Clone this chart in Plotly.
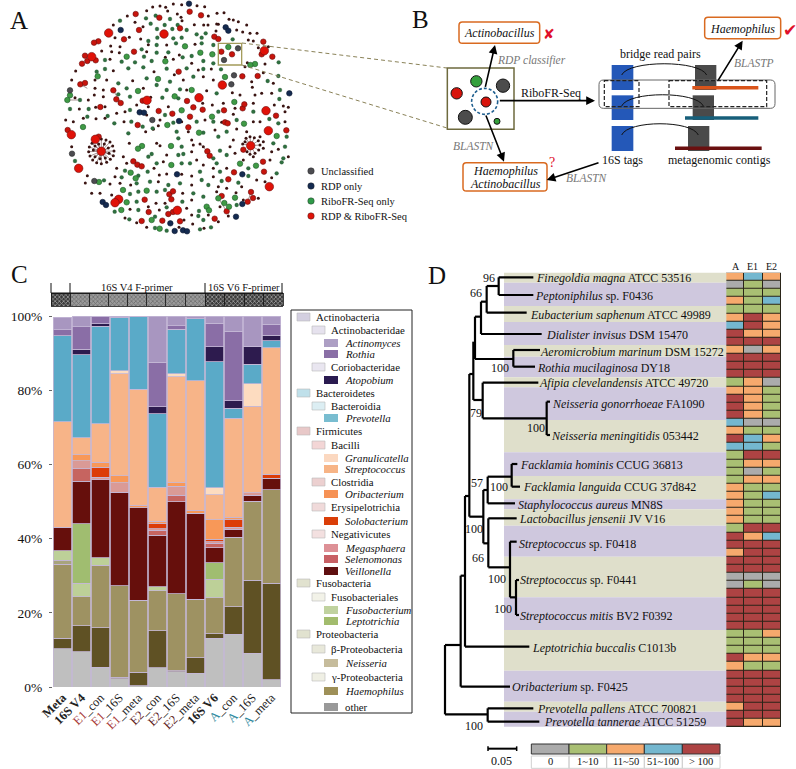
import plotly.graph_objects as go

W, H = 796, 769
SERIF = "Liberation Serif"

# ---------- Panel C data ----------
samples = ["Meta", "16S V4", "E1_con", "E1_16S", "E1_meta", "E2_con", "E2_16S", "E2_meta", "16S V6", "A_con", "A_16S", "A_meta"]
sample_ticks = ["<b>Meta</b>", "<b>16S V4</b>",
                "<span style='color:#a83a3a'>E1</span>_con", "<span style='color:#a83a3a'>E1</span>_16S", "<span style='color:#a83a3a'>E1</span>_meta",
                "<span style='color:#5e1a1a'>E2</span>_con", "<span style='color:#5e1a1a'>E2</span>_16S", "<span style='color:#5e1a1a'>E2</span>_meta",
                "<b>16S V6</b>",
                "<span style='color:#2f8aa0'>A</span>_con", "<span style='color:#2f8aa0'>A</span>_16S", "<span style='color:#2f8aa0'>A</span>_meta"]
other =        [10.3, 9.5, 5.3, 2.2, 0.3, 5.2, 4.1, 3.7, 13.1, 14.2, 9.1, 1.9]
dark_olive =   [2.9, 7.0, 10.7, 0.4, 3.7, 9.9, 0.3, 4.2, 1.2, 7.4, 19.7, 26.0]
haemophilus =  [19.9, 7.8, 16.8, 24.7, 19.4, 10.9, 20.8, 15.8, 9.8, 18.8, 21.3, 25.3]
neisseria =    [1.1, 0, 0, 0, 0, 0, 0, 0, 0, 0, 0, 0]
fusobacterium = [2.5, 3.6, 2.1, 0, 0, 1.0, 0, 0, 4.9, 0, 0, 0]
leptotrichia = [0, 16.1, 0, 0, 0, 0, 0, 0, 4.5, 0, 0, 0]
veillonella =  [6.4, 11.4, 21.0, 25.2, 24.9, 13.9, 24.8, 23.2, 4.1, 2.1, 1.6, 3.1]
selenomonas =  [0, 3.4, 0, 0, 0, 1.3, 1.7, 0, 1.1, 0, 0, 0]
megasphaera =  [0, 2.2, 0.7, 2.5, 0, 0.5, 2.4, 0, 0.4, 0.6, 0.7, 0]
solobacterium = [0, 0, 2.7, 0, 0, 1.3, 0, 0, 0.7, 2.0, 0, 1.0]
oribacterium = [0, 1.6, 1.3, 2.0, 0.7, 0.7, 0.9, 0.7, 5.3, 0.7, 0, 0]
streptococcus = [28.4, 4.6, 10.4, 27.5, 31.2, 9.2, 28.6, 34.9, 6.7, 26.6, 23.3, 34.2]
granulicatella = [0, 0, 0, 0.8, 0, 0, 0.9, 0, 1.9, 0, 6.1, 0]
prevotella =   [23.2, 22.3, 26.3, 14.2, 19.8, 19.7, 11.9, 16.8, 34.0, 2.8, 5.2, 1.8]
atopobium =    [0, 1.6, 0.6, 0, 0, 1.9, 0, 0, 4.0, 2.0, 4.8, 1.5]
rothia =       [1.6, 6.0, 2.1, 0, 0, 12.1, 1.0, 0, 6.3, 18.7, 0, 3.0]
actinomyces =  [3.3, 2.9, 0, 0.5, 0, 12.4, 2.6, 0.7, 2.0, 4.1, 8.2, 2.2]

stack_names = ["other", "unassigned", "Haemophilus", "Neisseria", "Fusobacterium", "Leptotrichia", "Veillonella", "Selenomonas", "Megasphaera",
               "Solobacterium", "Oribacterium", "Streptococcus", "Granulicatella", "Prevotella", "Atopobium", "Rothia", "Actinomyces"]
stack_values = [other, dark_olive, haemophilus, neisseria, fusobacterium, leptotrichia, veillonella, selenomonas, megasphaera,
                solobacterium, oribacterium, streptococcus, granulicatella, prevotella, atopobium, rothia, actinomyces]
stack_colors = ["#bfbfbf", "#5f5124", "#9e9262", "#a8a47c", "#bdd098", "#a0bd70", "#660f0c", "#c66460", "#da9a96",
                "#dc3c08", "#f89858", "#f7b488", "#fddcc0", "#5aaac8", "#2d1b4e", "#8a6ea6", "#a896c0"]

# legend rows: label, level, swatch colour
legend_labels = ["Actinobacteria", "Actinobacteridae", "Actinomyces", "Rothia", "Coriobacteridae", "Atopobium", "Bacteroidetes", "Bacteroidia", "Prevotella",
                 "Firmicutes", "Bacilli", "Granulicatella", "Streptococcus", "Clostridia", "Oribacterium", "Erysipelotrichia", "Solobacterium", "Negativicutes",
                 "Megasphaera", "Selenomonas", "Veillonella", "Fusobacteria", "Fusobacteriales", "Fusobacterium", "Leptotrichia", "Proteobacteria",
                 "β-Proteobacteria", "Neisseria", "γ-Proteobacteria", "Haemophilus", "other"]
legend_levels = [0, 1, 2, 2, 1, 2, 0, 1, 2, 0, 1, 2, 2, 1, 2, 1, 2, 1, 2, 2, 2, 0, 1, 2, 2, 0, 1, 2, 1, 2, 3]
legend_colors = ["#d3cfe0", "#e6e2ee", "#ad9fc4", "#8a6fa6", "#e9e6f0", "#2a1b50", "#bfe0ea", "#dceef3", "#79bdd0",
                 "#e8c8c8", "#f3d6d6", "#fbd8c0", "#f7b486", "#ecd0d0", "#f69255", "#f0dada", "#da3e08", "#f3e0e0",
                 "#dd9096", "#c86065", "#5f0f10", "#e1e2cf", "#f2f2e8", "#c0d29f", "#a2bc6d", "#e1e2cf",
                 "#e8e8da", "#c6bc9c", "#efefe4", "#9e9058", "#999999"]
legend_ypos = [317, 330, 343, 354, 367, 380, 393, 406, 418, 431, 445, 458, 469, 482, 494, 507, 521, 534, 548, 559, 571, 583, 597, 610, 621, 634, 649, 663, 677, 691, 707]

# ---------- Panel D data ----------
heat_A = ["O","K","G","O","G","O","B","R","R","O","R","R","R","G","O","R","R","R","B","O","R","B","G","G","G","G","O","O","O","O","O","G","R","R","O","R","R","K","K","R","R","R","R","R","G","G","G","R","O","R","R","R","R","O","R","R"]
heat_E1 = ["B","G","G","G","G","R","R","O","R","K","R","R","R","O","O","O","O","O","K","G","B","B","R","O","K","O","G","G","G","G","G","R","O","R","R","R","R","K","G","R","R","R","R","R","G","G","G","O","G","R","R","R","R","R","R","O"]
heat_E2 = ["O","K","G","B","G","O","O","O","R","O","R","R","R","K","G","G","G","G","K","G","O","G","R","O","G","O","G","B","G","G","G","R","B","R","R","R","R","K","K","R","R","R","R","R","O","G","G","O","G","R","R","R","R","R","R","O"]
heat_code = {"K": 0, "G": 1, "O": 2, "B": 3, "R": 4}
heat_colors = ["#ababab", "#a9bf73", "#f6a96d", "#74b7cf", "#ad4343"]
heat_columns = ["A", "E1", "E2"]
heat_labels = ["0", "1~10", "11~50", "51~100", "> 100"]

species = ["<i>Finegoldia magna</i> ATCC 53516", "<i>Peptoniphilus</i> sp. F0436", "<i>Eubacterium saphenum</i> ATCC 49989", "<i>Dialister invisus</i> DSM 15470",
           "<i>Aeromicrobium marinum</i> DSM 15272", "<i>Rothia mucilaginosa</i> DY18", "<i>Afipia clevelandensis</i> ATCC 49720",
           "<i>Neisseria gonorrhoeae</i> FA1090", "<i>Neisseria meningitidis</i> 053442", "<i>Facklamia hominis</i> CCUG 36813",
           "<i>Facklamia languida</i> CCUG 37d842", "<i>Staphylococcus aureus</i> MN8S", "<i>Lactobacillus jensenii</i> JV V16",
           "<i>Streptococcus</i> sp. F0418", "<i>Streptococcus</i> sp. F0441", "<i>Streptococcus mitis</i> BV2 F0392", "<i>Leptotrichia buccalis</i> C1013b",
           "<i>Oribacterium</i> sp. F0425", "<i>Prevotella pallens</i> ATCC 700821", "<i>Prevotella tannerae</i> ATCC 51259"]
species_x = [348, 345, 330, 378, 360, 352, 358, 395, 392, 300, 310, 295, 298, 298, 301, 300, 336, 275, 352, 372]
species_y = [55, 107, 165, 226, 275, 324, 368, 431, 527, 615, 682, 735, 778, 852, 961, 1068, 1165, 1281, 1348, 1386]
boot_text = ["96", "66", "100", "79", "100", "57", "100", "100", "66", "100", "100", "100"]
boot_x = [207, 168, 240, 168, 347, 172, 236, 163, 175, 230, 248, 163]
boot_y = [53, 99, 325, 458, 505, 668, 680, 808, 895, 957, 1048, 1397]
band_edges = [38, 68, 138, 186, 255, 290, 352, 382, 480, 577, 648, 718, 748, 797, 890, 1012, 1110, 1232, 1325, 1355, 1400]
# tree branches: x0, y0, x1, y1
branches = [
    (236, 52, 340, 52), (236, 105, 340, 105), (236, 52, 236, 105), (200, 78, 236, 78), (200, 158, 320, 158), (200, 78, 200, 158),
    (183, 125, 200, 125), (183, 222, 365, 222), (183, 125, 183, 222), (165, 170, 183, 170), (280, 270, 360, 270), (280, 320, 345, 320),
    (280, 270, 280, 320), (165, 297, 280, 297), (165, 170, 165, 297), (160, 245, 160, 420), (148, 342, 160, 342), (160, 420, 188, 420),
    (188, 368, 355, 368), (188, 368, 188, 475), (188, 475, 380, 475), (380, 425, 380, 525), (380, 425, 390, 425), (380, 525, 390, 525),
    (148, 342, 148, 770), (135, 708, 148, 708), (148, 770, 190, 770), (190, 690, 190, 850), (190, 690, 203, 690), (203, 650, 203, 730),
    (203, 730, 285, 730), (203, 650, 275, 650), (275, 612, 275, 680), (275, 612, 292, 612), (275, 680, 300, 680), (190, 850, 205, 850),
    (205, 775, 205, 922), (205, 775, 290, 775), (205, 922, 270, 922), (270, 845, 270, 1012), (270, 845, 290, 845), (270, 1012, 288, 1012),
    (288, 960, 288, 1065), (288, 960, 297, 960), (288, 1065, 297, 1065), (135, 708, 135, 1160), (135, 1160, 328, 1160), (122, 947, 135, 947),
    (122, 947, 122, 1280), (122, 1280, 270, 1280), (75, 1155, 122, 1155), (75, 1155, 75, 1363), (75, 1363, 203, 1363), (203, 1345, 203, 1385),
    (203, 1345, 340, 1345), (203, 1385, 358, 1385),
]

# ---------- Panel A data (node positions) ----------
red_big = [(326,99),(275,170),(304,454),(752,437),(286,418),(236,505),(597,293),(667,255),(798,332),(805,392),(808,560),(214,404),(356,598),(345,608),(532,631),(793,152),(441,301),(492,102)]
red_mid = [(407,42),(478,53),(569,35),(603,46),(417,90),(643,110),(655,117),(295,124),(282,128),(255,167),(262,183),(287,181),(246,191),(241,253),(255,249),(402,155),(785,163),(817,170),(428,302),(362,309),(672,331),(728,325),(733,313),(828,347),(476,333),(517,341),(570,350),(608,329),(580,322),(561,303),(536,215),(203,390),(296,410),(730,449),(413,375),(400,484),(412,494),(425,499),(622,454),(629,467),(702,517),(792,515),(685,538),(753,576),(743,605),(759,594),(508,583),(519,574),(514,598),(434,599),(519,636),(505,642),(425,663),(644,656),(665,588),(680,634),(540,664),(487,662),(446,636),(340,271),(349,298),(301,321),(727,229),(773,228),(675,367),(683,370),(565,382),(859,391),(789,485),(696,163),(664,155),(790,125),(540,85),(372,118)]
green_mid = [(414,273),(555,139),(545,331),(703,306),(732,371),(675,231),(830,408),(364,630),(369,570),(455,660),(479,686),(620,620),(627,631),(655,595),(673,609),(687,620),(297,546),(426,438),(414,446),(210,286),(202,300),(293,229),(502,375),(597,398),(636,350),(513,438),(514,495),(720,491),(768,497),(392,518),(407,535),(440,572),(380,607),(705,593),(765,192),(751,195),(496,184),(380,170),(474,237),(601,158),(637,163),(685,141),(575,270),(524,289),(249,381)]
navy = [(567,11),(677,82),(685,92),(362,90),(419,337),(432,338),(537,363),(308,606),(318,615),(511,670),(524,693),(549,691),(561,694),(708,650),(727,612),(531,523),(727,523),(868,280)]
slate = [(210,271),(216,461),(283,543),(694,253),(714,145),(672,180),(457,360),(702,226)]
green_small = [(360,62),(438,55),(510,57),(467,47),(494,75),(452,71),(471,87),(517,87),(533,75),(560,90),(590,103),(617,100),(445,123),(472,113),(520,115),(545,113),(605,113),(698,118),(470,135),(528,130),(605,130),(640,135),(425,148),(470,158),(505,157),(575,168),(315,180),(365,185),(405,187),(432,170),(455,183),(548,172),(610,183),(640,190),(836,187),(560,205),(610,207),(290,215),(315,207),(385,205),(430,202),(500,206),(663,208),(835,228),(355,250),(440,235),(510,245),(580,230),(803,243),(380,265),(470,255),(500,270),(540,268),(650,280),(840,270),(355,283),(390,290),(487,293),(535,295),(838,297),(240,300),(266,327),(210,327),(390,330),(495,345),(655,335),(760,335),(262,350),(323,348),(343,370),(394,365),(428,380),(458,385),(520,368),(590,365),(640,365),(710,360),(808,357),(835,370),(385,400),(530,395),(610,398),(680,395),(860,410),(535,415),(655,410),(820,430),(545,440),(660,452),(855,440),(445,470),(455,462),(535,465),(550,462),(640,475),(680,465),(850,475),(225,483),(470,490),(545,490),(570,490),(650,490),(745,505),(845,487),(375,512),(443,515),(600,515),(660,515),(830,520),(365,532),(415,527),(605,540),(665,543),(715,548),(745,528),(312,541),(410,550),(450,545),(505,555),(540,550),(625,555),(390,582),(415,575),(470,575),(495,570),(580,580),(610,590),(410,605),(547,605),(705,593),(415,630),(500,622),(597,633),(710,615),(344,635),(595,648),(388,658),(465,650),(610,660),(465,684),(500,692),(600,688),(633,682)]
dark_small = [(458,21),(480,18),(497,22),(520,12),(545,14),(591,17),(614,20),(503,33),(440,32),(651,40),(672,38),(382,48),(532,42),(543,52),(625,48),(650,72),(687,58),(700,60),(715,65),(546,62),(340,75),(405,67),(429,80),(583,74),(611,75),(624,75),(655,73),(740,75),(648,93),(710,90),(750,100),(771,100),(728,96),(388,112),(345,113),(422,117),(745,120),(760,123),(332,138),(360,140),(445,134),(500,135),(585,133),(305,153),(335,155),(358,158),(440,155),(538,165),(805,140),(775,143),(330,178),(496,172),(520,178),(575,190),(742,188),(795,192),(595,210),(227,213),(340,212),(462,215),(523,224),(634,207),(735,200),(790,218),(285,240),(320,240),(398,242),(550,240),(610,230),(640,240),(755,245),(820,250),(215,240),(285,265),(310,270),(430,265),(560,270),(620,272),(697,278),(720,285),(757,262),(785,280),(815,280),(283,285),(310,290),(452,292),(608,310),(670,310),(765,285),(225,293),(265,300),(410,315),(445,320),(505,320),(637,315),(705,325),(760,310),(823,315),(850,318),(865,322),(238,327),(287,322),(315,320),(350,340),(375,335),(440,345),(700,343),(855,335),(197,360),(220,365),(250,355),(288,356),(315,355),(372,365),(475,377),(480,360),(545,365),(615,360),(665,367),(760,365),(780,365),(855,365),(437,395),(460,388),(565,395),(645,390),(710,387),(740,395),(780,410),(470,430),(480,437),(575,420),(600,432),(610,440),(700,420),(790,425),(215,440),(388,430),(580,435),(690,440),(705,460),(790,445),(815,455),(835,448),(370,470),(500,465),(575,455),(590,480),(730,480),(760,470),(810,480),(865,470),(380,490),(490,485),(610,495),(680,505),(350,505),(462,505),(500,522),(545,523),(640,505),(815,533),(262,527),(345,530),(478,525),(575,528),(640,530),(770,540),(795,545),(256,549),(330,552),(360,550),(392,555),(475,545),(575,555),(655,560),(680,565),(708,578),(275,580),(300,580),(335,585),(548,580),(725,560),(775,595),(468,610),(495,610),(575,600),(650,575),(730,600),(390,628),(445,620),(478,630),(560,625),(660,620),(625,645),(375,654),(410,668),(505,645),(575,645),(655,665),(685,648),(440,682),(537,682),(578,672),(612,685),(552,660)]
hub1 = (304, 454)
hub1_leaves = [(304,417),(318,420),(330,426),(338,438),(342,453),(340,467),(331,478),(320,487),(304,491),(290,488),(278,480),(270,468),(266,455),(268,441),(276,430),(288,424),(296,432),(313,432),(325,444),(327,460),(316,474),(300,476),(285,470),(280,450),(285,438)]
hub2 = (752, 437)
hub2_leaves = [(750,410),(763,413),(775,422),(780,435),(776,450),(765,460),(750,463),(735,425),(738,415),(728,432),(741,455)]
node_links = [((400,484),(425,499)),((622,454),(601,432)),((340,271),(362,309)),((508,583),(514,598)),((505,642),(532,631)),((743,605),(753,576)),((297,546),(283,543)),((202,300),(240,300)),((214,404),(203,390)),((241,253),(262,265)),((655,595),(680,634)),((733,313),(728,325))]

net_legend_labels = ["Unclassified", "RDP only", "RiboFR-Seq only", "RDP & RiboFR-Seq"]
net_legend_colors = ["#4c4c50", "#142a50", "#2f9a48", "#e01208"]
net_legend_y = [171, 186, 201, 216]

# header strip of panel C
strip_edges = [51, 70, 89, 108, 127, 146, 165, 185, 205, 224, 244, 263, 283]
strip_bg = ["#3a3a3a"] + ["#9a9a9a"] * 7 + ["#3a3a3a"] * 4
strip_fg = ["#2a2a2a"] + ["#6a6a6a"] * 7 + ["#1c1c1c"] * 4

# ---------- helpers ----------
fig = go.Figure()
shapes, notes = [], []

def px_dom_x(a, b):
    return [a / W, b / W]

def px_dom_y(top, bottom):
    return [1 - bottom / H, 1 - top / H]

def hidden(dom, rng, anchor):
    return dict(domain=dom, range=rng, visible=False, anchor=anchor, fixedrange=True, automargin=False)

def text(x, y, s, ax, size=12, color="#111", xanchor="center", family=SERIF, yanchor="middle"):
    notes.append(dict(x=x, y=y, xref="x" + ax, yref="y" + ax, text=s, showarrow=False, xanchor=xanchor, yanchor=yanchor,
                      font=dict(family=family, size=size, color=color), borderpad=0, borderwidth=0))

def arrow(x0, y0, x1, y1, ax):
    notes.append(dict(x=x1, y=y1, ax=x0, ay=y0, xref="x" + ax, yref="y" + ax, axref="x" + ax, ayref="y" + ax, text="", showarrow=True,
                      arrowhead=2, arrowsize=1.1, arrowwidth=1.6, arrowcolor="#000"))

def rect(x0, y0, x1, y1, ax, fill="rgba(0,0,0,0)", line=None, width=1, dash="solid", layer="above"):
    shapes.append(dict(type="rect", x0=x0, y0=y0, x1=x1, y1=y1, xref="x" + ax, yref="y" + ax, fillcolor=fill,
                       line=dict(color=line or "rgba(0,0,0,0)", width=width if line else 0, dash=dash), layer=layer))

def seg(x0, y0, x1, y1, ax, color="#000", width=1, dash="solid"):
    shapes.append(dict(type="line", x0=x0, y0=y0, x1=x1, y1=y1, xref="x" + ax, yref="y" + ax, line=dict(color=color, width=width, dash=dash)))

def rrect(x0, y0, x1, y1, ax, r, color, width):
    p = (f"M {x0+r} {y0} L {x1-r} {y0} Q {x1} {y0} {x1} {y0+r} L {x1} {y1-r} Q {x1} {y1} {x1-r} {y1} "
         f"L {x0+r} {y1} Q {x0} {y1} {x0} {y1-r} L {x0} {y0+r} Q {x0} {y0} {x0+r} {y0} Z")
    shapes.append(dict(type="path", path=p, xref="x" + ax, yref="y" + ax, line=dict(color=color, width=width), fillcolor="rgba(255,255,255,0)"))

def curve(x0, x1, y_base, y_peak, ax):
    shapes.append(dict(type="path", path=f"M {x0} {y_base} C {x0+20} {y_peak} {x1-20} {y_peak} {x1} {y_base}", xref="x" + ax, yref="y" + ax,
                       line=dict(color="#111", width=1)))

# ---------- Panel C bars ----------
for name, vals, col in zip(stack_names, stack_values, stack_colors):
    fig.add_trace(go.Bar(x=samples, y=vals, name=name, marker=dict(color=col, line=dict(color="#c4b8d6", width=0.8)), xaxis="x", yaxis="y", showlegend=False))

# ---------- Panel D heat map ----------
heat_z = [[heat_code[a], heat_code[b], heat_code[c]] for a, b, c in zip(heat_A, heat_E1, heat_E2)]
scale = []
for i, c in enumerate(heat_colors):
    scale += [[i / 5, c], [(i + 1) / 5, c]]
fig.add_trace(go.Heatmap(z=heat_z, x=heat_columns, zmin=-0.5, zmax=4.5, colorscale=scale, showscale=False, xgap=1, ygap=1, xaxis="x2", yaxis="y2"))
shapes.append(dict(type="rect", xref="x2 domain", yref="y2 domain", x0=0, x1=1, y0=0, y1=1, fillcolor="#2a2418", line=dict(width=0), layer="below"))

# ---------- Panel A ----------
ex, ey = [], []
for hub, leaves in ((hub1, hub1_leaves), (hub2, hub2_leaves)):
    for leaf in leaves:
        ex += [hub[0], leaf[0], None]
        ey += [hub[1], leaf[1], None]
for a, b in node_links:
    ex += [a[0], b[0], None]
    ey += [a[1], b[1], None]
fig.add_trace(go.Scatter(x=ex, y=ey, mode="lines", line=dict(color="#6b4a4a", width=0.6), xaxis="x3", yaxis="y3", showlegend=False))

def nodes(points, size, color, edge, width=0.6):
    fig.add_trace(go.Scatter(x=[p[0] for p in points], y=[p[1] for p in points], mode="markers",
                             marker=dict(size=size, color=color, line=dict(color=edge, width=width)), xaxis="x3", yaxis="y3", showlegend=False))

nodes(dark_small + hub1_leaves + hub2_leaves, 3, "#3a1412", "#3a1412", 0)
nodes(green_small, 3.8, "#2f7040", "#1d4a2a", 0.3)
nodes(red_mid, 5.5, "#c8140c", "#6a1010")
nodes(green_mid, 5.5, "#3f9a45", "#1f5a2a")
nodes(navy, 5.5, "#142a50", "#0d1a33")
nodes(slate, 5.5, "#4c4c50", "#2a2a2a")
nodes(red_big, 8.5, "#e01208", "#701010")
rect(655, 130, 725, 195, "3", line="#a39b5a", width=1.3)
text(57, 60, "A", "3", size=25)

# page-level legend of panel A
fig.add_trace(go.Scatter(x=[311] * 4, y=net_legend_y, mode="markers", marker=dict(size=6.5, color=net_legend_colors, line=dict(color="#222", width=0.4)),
                         xaxis="x6", yaxis="y6", showlegend=False))
for lab, y in zip(net_legend_labels, net_legend_y):
    text(321, y, lab, "6", size=10.5, xanchor="left")

# zoom lines A -> B
seg(242, 43, 447, 68, "6", color="#8a8258", width=1, dash="4px,3px")
seg(242, 65, 447, 128, "6", color="#8a8258", width=1, dash="4px,3px")

# ---------- Panel B (schematic) ----------
text(62, 58, "B", "4", size=25)
rrect(177, 66, 419, 130, "4", 10, "#d96a20", 1.5)
text(298, 98, "<i>Actinobacillus</i>", "4", size=12)
text(446, 102, "✘", "4", size=14, color="#e0102a", family="DejaVu Sans")
text(393, 180, "<i>RDP classifier</i>", "4", size=11.5, color="#777")
rect(142, 204, 342, 388, "4", line="#6e6a3e", width=1.5)
for cx, cy, r, c in [(170, 280, 17, "#d8140c"), (229, 244, 17, "#35a03c"), (309, 257, 20, "#4c4c4c"), (196, 352, 21, "#4c4c4c"), (291, 364, 9, "#35a03c"), (258, 306, 15, "#d8140c")]:
    shapes.append(dict(type="circle", x0=cx - r, x1=cx + r, y0=cy - r, y1=cy + r, xref="x4", yref="y4", fillcolor=c, line=dict(color="#111", width=1)))
shapes.append(dict(type="circle", x0=215, x1=293, y0=265, y1=343, xref="x4", yref="y4", line=dict(color="#1f5f8f", width=1.6, dash="3px,2px")))
arrow(255, 265, 285, 135, "4")
arrow(256, 342, 312, 485, "4")
arrow(295, 302, 585, 302, "4")
arrow(600, 487, 440, 540, "4")
arrow(952, 245, 1028, 122, "4")
text(222, 437, "<i>BLASTN</i>", "4", size=11.5, color="#777")
rrect(189, 488, 441, 573, "4", 10, "#d96a20", 1.5)
text(318, 512, "<i>Haemophilus</i>", "4", size=12)
text(318, 551, "<i>Actinobacillus</i>", "4", size=12)
text(455, 488, "?", "4", size=14, color="#e0102a")
text(454, 278, "RiboFR-Seq", "4", size=12)
for y0, y1 in [(195, 270), (286, 360), (378, 453)]:
    rect(635, y0, 700, y1, "4", fill="#2458b8")
for x0, y0, x1, y1 in [(885, 195, 949, 270), (878, 286, 942, 360), (864, 378, 928, 453)]:
    rect(x0, y0, x1, y1, "4", fill="#4a4a4a")
seg(877, 263, 1075, 263, "4", "#d9541a", 3.5)
seg(855, 354, 1075, 354, "4", "#175f7a", 3.5)
seg(825, 445, 1085, 445, "4", "#6a1010", 3.5)
rrect(597, 240, 1125, 325, "4", 14, "#666", 1)
rect(613, 242, 717, 320, "4", line="#222", width=1.2, dash="4px,2px")
rect(807, 242, 1100, 320, "4", line="#222", width=1.2, dash="4px,2px")
curve(665, 920, 225, 180, "4")
curve(665, 910, 318, 273, "4")
curve(665, 895, 405, 360, "4")
text(782, 162, "bridge read pairs", "4", size=12)
text(1062, 188, "<i>BLASTP</i>", "4", size=11.5, color="#777")
rrect(914, 52, 1142, 116, "4", 10, "#d96a20", 1.5)
text(1028, 86, "<i>Haemophilus</i>", "4", size=12)
text(1170, 90, "✔", "4", size=17, color="#e0102a", family="DejaVu Sans")
text(668, 481, "16S tags", "4", size=12)
text(959, 481, "metagenomic contigs", "4", size=12)
text(562, 535, "<i>BLASTN</i>", "4", size=11.5, color="#777")

# ---------- Panel C decorations ----------
text(19, 274, "C", "6", size=25)
seg(51, 293, 283, 293, "6", "#111", 1)
for x in (51, 70, 205, 282):
    seg(x, 283, x, 293, "6", "#111", 1)
text(137, 287, "16S V4 F-primer", "6", size=10.5)
text(244, 287, "16S V6 F-primer", "6", size=10.5)
strip_centers = [(a + b) / 2 for a, b in zip(strip_edges[:-1], strip_edges[1:])]
strip_widths = [b - a for a, b in zip(strip_edges[:-1], strip_edges[1:])]
fig.add_trace(go.Bar(x=strip_centers, y=[13] * 12, base=[293] * 12, width=strip_widths, xaxis="x6", yaxis="y6", showlegend=False,
                     marker=dict(color=strip_bg, line=dict(color="#111", width=0.8),
                                 pattern=dict(shape="x", size=3, solidity=0.45, fgcolor=strip_fg, bgcolor=strip_bg))))

rect(291, 310, 412, 713, "6", fill="#fff", line="#222", width=1, layer="above")
swatch_x = [(297, 310), (312, 325), (324, 338), (324, 338)]
label_x = [316, 331, 345, 345]
for lab, lvl, col, y in zip(legend_labels, legend_levels, legend_colors, legend_ypos):
    x0, x1 = swatch_x[lvl]
    rect(x0, y - 4, x1, y + 4, "6", fill=col, line="#bbb" if lvl < 2 else None, width=0.6)
    s = f"<i>{lab}</i>" if lvl == 2 else lab
    text(label_x[lvl], y, s, "6", size=10.8, xanchor="left")

# ---------- Panel D tree ----------
text(52, 45, "D", "5", size=25)
for i in range(len(band_edges) - 1):
    shapes.append(dict(type="rect", x0=252, x1=919, y0=band_edges[i], y1=band_edges[i + 1], xref="x5", yref="y5",
                       fillcolor="#dfdfcb" if i % 2 == 0 else "#cfc8de", line=dict(width=0), layer="below"))
tx, ty = [], []
for x0, y0, x1, y1 in branches:
    tx += [x0, x1, None]
    ty += [y0, y1, None]
fig.add_trace(go.Scatter(x=tx, y=ty, mode="lines", line=dict(color="#000", width=2.2), xaxis="x5", yaxis="y5", showlegend=False))
for s, x, y in zip(species, species_x, species_y):
    text(x, y, s, "5", size=12, xanchor="left")
for s, x, y in zip(boot_text, boot_x, boot_y):
    text(x, y, s, "5", size=12)
for s, x in zip(heat_columns, (947, 997, 1055)):
    text(x, 18, s, "5", size=10)
seg(204, 1466, 290, 1466, "5", "#000", 2)
seg(204, 1459, 204, 1473, "5", "#000", 1.5)
seg(290, 1459, 290, 1473, "5", "#000", 1.5)
text(246, 1504, "0.05", "5", size=12)
leg_edges = [334, 447, 560, 673, 787, 900]
for i, (c, lab) in enumerate(zip(heat_colors, heat_labels)):
    rect(leg_edges[i], 1452, leg_edges[i + 1], 1482, "5", fill=c, line="#333", width=1)
    rect(leg_edges[i], 1488, leg_edges[i + 1], 1525, "5", line="#d0d0d0", width=1)
    text((leg_edges[i] + leg_edges[i + 1]) / 2, 1505, lab, "5", size=10.5)

fig.update_layout(
    width=W, height=H, margin=dict(l=0, r=0, t=0, b=0, autoexpand=False), paper_bgcolor="#fff", plot_bgcolor="rgba(0,0,0,0)",
    barmode="stack", bargap=0.03, showlegend=False, font=dict(family=SERIF, color="#111"),
    xaxis=dict(domain=px_dom_x(53, 281), anchor="y", range=[-0.5, 11.5], type="category", tickmode="array", tickvals=samples, ticktext=sample_ticks, tickangle=-45,
               showgrid=False, zeroline=False, showline=False, ticks="", automargin=False, tickfont=dict(family=SERIF, size=12.5, color="#222"), fixedrange=True),
    yaxis=dict(domain=px_dom_y(316, 687), anchor="x", range=[0, 100], tickvals=[0, 20, 40, 60, 80, 100], ticktext=["0%", "20%", "40%", "60%", "80%", "100%"],
               showgrid=False, zeroline=False, showline=False, ticks="outside", ticklen=3, tickcolor="#666", ticklabelstandoff=4, automargin=False,
               tickfont=dict(family=SERIF, size=13.5, color="#111"), fixedrange=True),
    xaxis2=dict(hidden(px_dom_x(726, 781), [-0.5, 2.5], "y2"), type="category"),
    yaxis2=hidden(px_dom_y(272.7, 727), [55.5, -0.5], "x2"),
    xaxis3=hidden(px_dom_x(0, 300), [0, 900], "y3"),
    yaxis3=hidden(px_dom_y(0, 250), [750, 0], "x3"),
    xaxis4=hidden(px_dom_x(400, 796), [0, 1188], "y4"),
    yaxis4=hidden(px_dom_y(0, 210), [630, 0], "x4"),
    xaxis5=hidden(px_dom_x(420, 796), [0, 1128], "y5"),
    yaxis5=hidden(px_dom_y(260, 769), [1527, 0], "x5"),
    xaxis6=hidden([0, 1], [0, W], "y6"),
    yaxis6=hidden([0, 1], [H, 0], "x6"),
    shapes=shapes, annotations=notes,
)

fig.write_html("out.html", post_script="document.body.style.margin='0';document.body.style.overflow='hidden';",
               config={"displayModeBar": False})
